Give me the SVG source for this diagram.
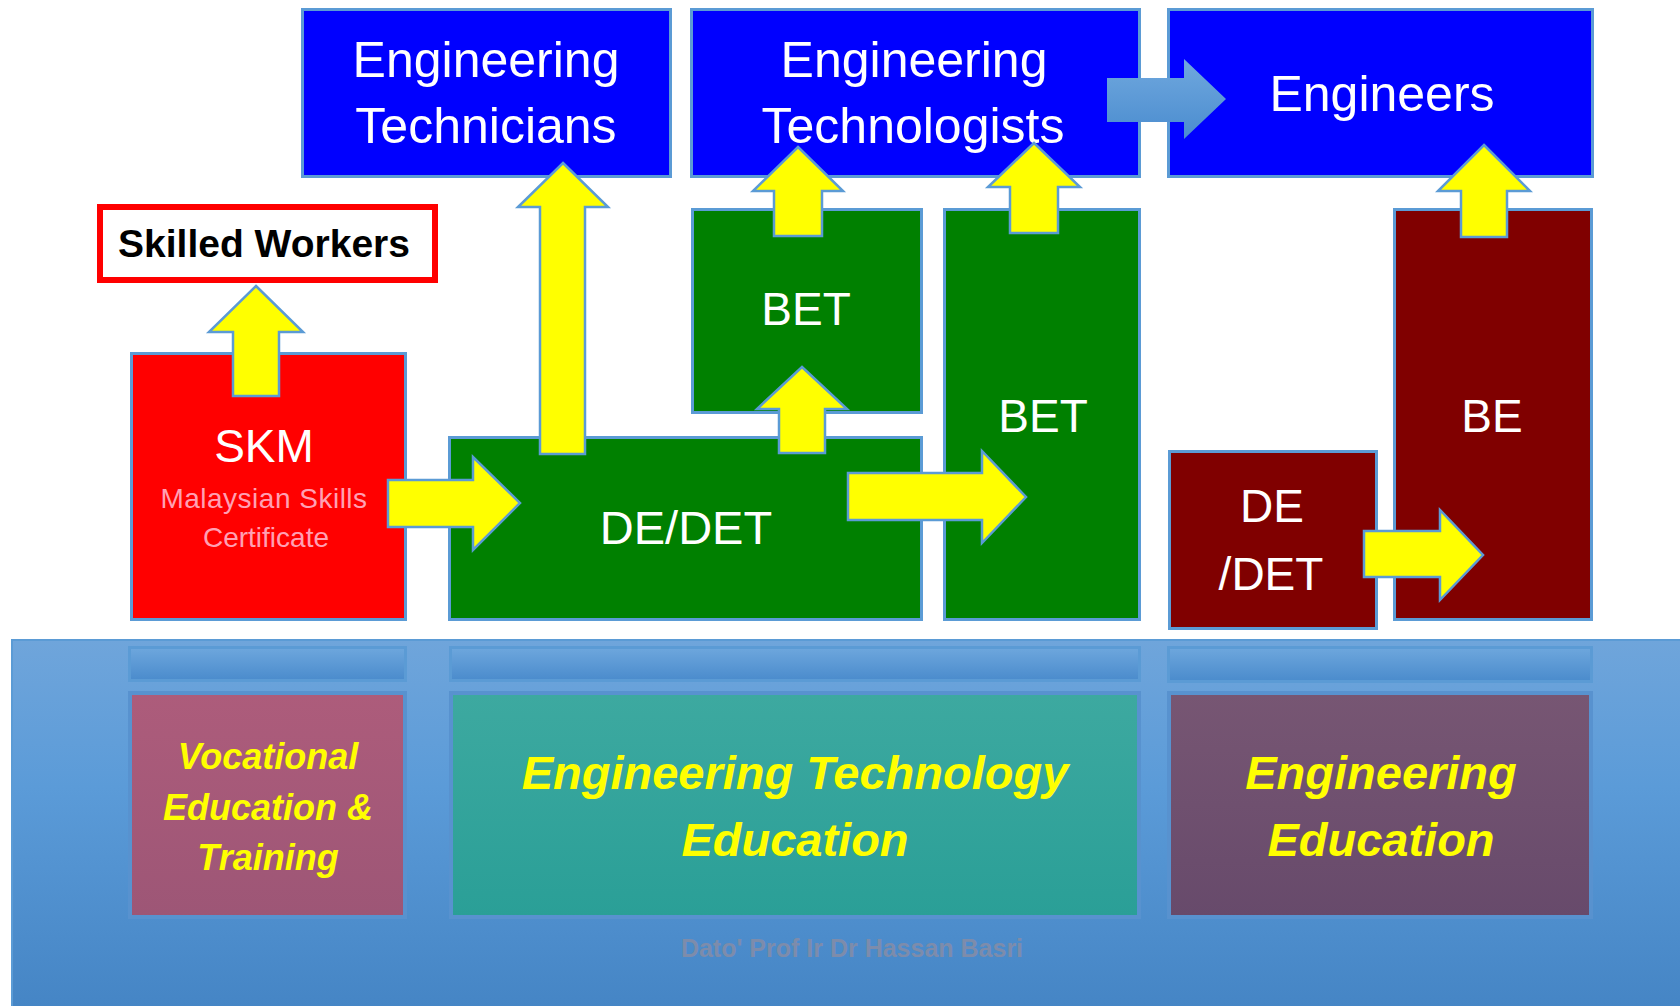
<svg xmlns="http://www.w3.org/2000/svg" width="1680" height="1006" viewBox="0 0 1680 1006">
<defs>
<linearGradient id="gPanel" x1="0" y1="0" x2="0" y2="1">
<stop offset="0" stop-color="#6fa5db"/><stop offset="0.4" stop-color="#5b9bd8"/><stop offset="1" stop-color="#4585c5"/>
</linearGradient>
<linearGradient id="gStrip" x1="0" y1="0" x2="0" y2="1">
<stop offset="0" stop-color="#6ea7dd"/><stop offset="1" stop-color="#4a8bcc"/>
</linearGradient>
<linearGradient id="gVoc" x1="0" y1="0" x2="0" y2="1">
<stop offset="0" stop-color="#ad5c7b"/><stop offset="1" stop-color="#9d5676"/>
</linearGradient>
<linearGradient id="gEte" x1="0" y1="0" x2="0" y2="1">
<stop offset="0" stop-color="#3da9a0"/><stop offset="1" stop-color="#2a9f97"/>
</linearGradient>
<linearGradient id="gEe" x1="0" y1="0" x2="0" y2="1">
<stop offset="0" stop-color="#775673"/><stop offset="1" stop-color="#674a6b"/>
</linearGradient>
<linearGradient id="gBlueArrow" x1="0" y1="0" x2="0" y2="1">
<stop offset="0" stop-color="#70a8de"/><stop offset="1" stop-color="#4a8ccf"/>
</linearGradient>
</defs>
<style>
.box{stroke:#5b9bd5;stroke-width:3}
.blue{fill:#0000ff}
.green{fill:#008000}
.maroon{fill:#800000}
.red{fill:#ff0000}
.t{font-family:"Liberation Sans",Arial,sans-serif;text-anchor:middle}
.w{fill:#ffffff}
.ya{fill:#ffff00;stroke:#5b9bd5;stroke-width:2.5;stroke-linejoin:miter}
.strip{fill:url(#gStrip);stroke:#5b9bd5;stroke-width:3}
.edu{stroke:#5892cf;stroke-width:4}
.yl{fill:#ffff00;font-weight:bold;font-style:italic}
</style>

<g id="panel">
<rect x="12" y="640" width="1670" height="368" fill="url(#gPanel)" stroke="#5b9bd5" stroke-width="2"/>
<rect class="strip" x="129.5" y="647.5" width="276" height="33"/>
<rect class="strip" x="450.5" y="647.5" width="689" height="33"/>
<rect class="strip" x="1168.5" y="647.5" width="423" height="34"/>
</g>

<g id="vocational">
<rect class="edu" x="130" y="693" width="275" height="224" fill="url(#gVoc)"/>
<text class="t yl" x="268" y="769" font-size="36">Vocational</text>
<text class="t yl" x="268" y="820" font-size="36">Education &amp;</text>
<text class="t yl" x="268" y="870" font-size="36">Training</text>
</g>

<g id="et-education">
<rect class="edu" x="451" y="693" width="688" height="224" fill="url(#gEte)"/>
<text class="t yl" x="795" y="789" font-size="47">Engineering Technology</text>
<text class="t yl" x="795" y="856" font-size="47">Education</text>
</g>

<g id="eng-education">
<rect class="edu" x="1169" y="693" width="422" height="224" fill="url(#gEe)"/>
<text class="t yl" x="1381" y="789" font-size="47">Engineering</text>
<text class="t yl" x="1381" y="856" font-size="47">Education</text>
</g>

<g id="watermark">
<text class="t" x="852" y="957" font-size="25" font-weight="bold" fill="#7d8cab">Dato' Prof Ir Dr Hassan Basri</text>
</g>

<g id="eng-technicians">
<rect class="box blue" x="302.5" y="9.5" width="368" height="167"/>
<text class="t w" x="486" y="77" font-size="50">Engineering</text>
<text class="t w" x="486" y="143" font-size="50">Technicians</text>
</g>

<g id="eng-technologists">
<rect class="box blue" x="691.5" y="9.5" width="448" height="167"/>
<text class="t w" x="914" y="77" font-size="50">Engineering</text>
<text class="t w" x="913" y="143" font-size="50">Technologists</text>
</g>

<g id="engineers">
<rect class="box blue" x="1168.5" y="9.5" width="424" height="167"/>
<text class="t w" x="1382" y="111" font-size="50">Engineers</text>
</g>

<g id="skilled-workers">
<rect x="100" y="207" width="335" height="73" fill="#ffffff" stroke="#ff0000" stroke-width="6"/>
<text class="t" x="264" y="257" font-size="39" font-weight="bold" fill="#000000">Skilled Workers</text>
</g>

<g id="skm">
<rect class="box red" x="131.5" y="353.5" width="274" height="266"/>
<text class="t w" x="264" y="462" font-size="46">SKM</text>
<text class="t" x="264" y="508" font-size="28" fill="#ffa0b4" letter-spacing="0.5">Malaysian Skills</text>
<text class="t" x="266" y="547" font-size="28" fill="#ffa0b4">Certificate</text>
</g>

<g id="de-det-green">
<rect class="box green" x="449.5" y="437.5" width="472" height="182"/>
<text class="t w" x="686" y="544" font-size="47">DE/DET</text>
</g>

<g id="bet-small">
<rect class="box green" x="692.5" y="209.5" width="229" height="203"/>
<text class="t w" x="806" y="325" font-size="46">BET</text>
</g>

<g id="bet-tall">
<rect class="box green" x="944.5" y="209.5" width="195" height="410"/>
<text class="t w" x="1043" y="432" font-size="46">BET</text>
</g>

<g id="de-det-maroon">
<rect class="box maroon" x="1169.5" y="451.5" width="207" height="177"/>
<text class="t w" x="1272" y="522" font-size="46">DE</text>
<text class="t w" x="1271" y="590" font-size="46">/DET</text>
</g>

<g id="be">
<rect class="box maroon" x="1394.5" y="209.5" width="197" height="410"/>
<text class="t w" x="1492" y="432" font-size="46">BE</text>
</g>

<g id="connectors">
<polygon class="ya" points="256,286 303,332 279,332 279,396 233,396 233,332 209,332"/>
<polygon class="ya" points="563,163 608,207 585,207 585,454 540,454 540,207 518,207"/>
<polygon class="ya" points="802,367 847,409 825,409 825,453 779,453 779,409 757,409"/>
<polygon class="ya" points="798,147 843,191 822,191 822,236 774,236 774,191 753,191"/>
<polygon class="ya" points="1034,143 1080,187 1058,187 1058,233 1010,233 1010,187 988,187"/>
<polygon class="ya" points="1484,145 1530,191 1507,191 1507,237 1461,237 1461,191 1438,191"/>
<polygon class="ya" points="388,480 473,480 473,457 520,503 473,550 473,527 388,527"/>
<polygon class="ya" points="848,473 982,473 982,451 1026,497 982,543 982,520 848,520"/>
<polygon class="ya" points="1364,531 1440,531 1440,510 1483,555 1440,600 1440,577 1364,577"/>
<polygon points="1107,78 1184,78 1184,59 1226,99 1184,139 1184,122 1107,122" fill="url(#gBlueArrow)"/>
</g>
</svg>
